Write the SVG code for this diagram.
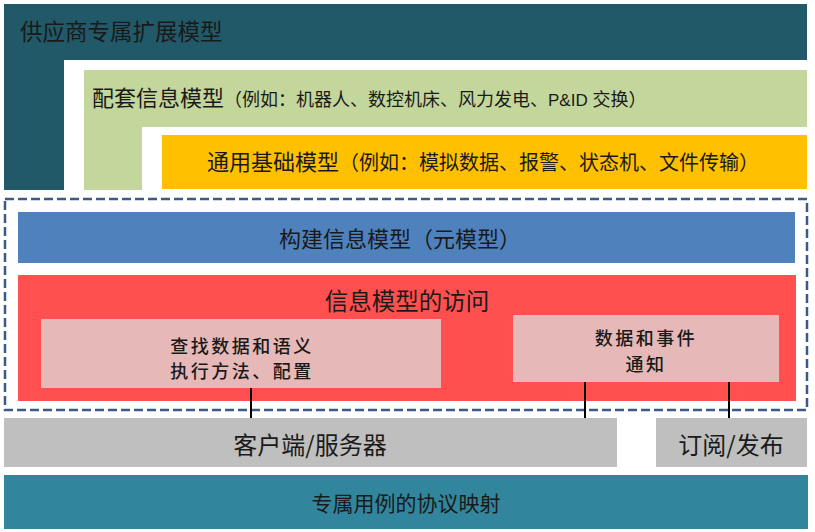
<svg xmlns="http://www.w3.org/2000/svg" width="815" height="532" viewBox="0 0 815 532">
<style>
text{font-family:"Noto Sans CJK SC","Noto Sans",sans-serif;fill:#1a1a1a;}
.lat{font-family:"Liberation Sans","Noto Sans",sans-serif;}
.c{text-anchor:middle;dominant-baseline:central;}
.pk{font-size:18px;font-weight:500;letter-spacing:2.5px;}
.conn{stroke:#000;stroke-width:2;fill:none;}
</style>
<rect width="815" height="532" fill="#ffffff"/>
<g id="vendor">
<path d="M4 4H807V60H64V190H4Z" fill="#215968"/>
<text x="20" y="40" font-size="22.5">供应商专属扩展模型</text>
</g>
<g id="companion">
<path d="M84 70H807V127H142V190H84Z" fill="#C3D69B"/>
<text x="92" y="106" font-size="22">配套信息模型<tspan font-size="18">（例如：机器人、数控机床、风力发电、<tspan class="lat" font-size="17">P&amp;ID </tspan>交换）</tspan></text>
</g>
<g id="base">
<rect x="162" y="135" width="645" height="54" fill="#FFC000"/>
<text x="207" y="170" font-size="22">通用基础模型<tspan font-size="20">（例如：模拟数据、报警、状态机、文件传输）</tspan></text>
</g>
<g id="frame">
<rect x="5" y="199" width="802" height="211" fill="none" stroke="#3B5A85" stroke-width="2.5" stroke-dasharray="9 4"/>
</g>
<g id="build">
<rect x="18" y="212" width="777" height="51" fill="#4F81BD"/>
<text class="c" x="400" y="237" font-size="22">构建信息模型（元模型）</text>
</g>
<g id="access">
<rect x="18" y="275" width="778" height="126" fill="#FF4F4F"/>
<text class="c" x="407" y="300" font-size="23.5">信息模型的访问</text>
</g>
<g id="find">
<rect x="41" y="319" width="400" height="69" fill="#E6B9B8"/>
<text class="c pk" x="242" y="345">查找数据和语义</text>
<text class="c pk" x="242" y="370">执行方法、配置</text>
</g>
<g id="notify">
<rect x="513" y="315" width="266" height="67" fill="#E6B9B8"/>
<text class="c pk" x="646" y="337">数据和事件</text>
<text class="c pk" x="646" y="363">通知</text>
</g>
<g id="connectors">
<line class="conn" x1="251" y1="388" x2="251" y2="418"/>
<line class="conn" x1="585" y1="382" x2="585" y2="418"/>
<line class="conn" x1="729" y1="382" x2="729" y2="418"/>
</g>
<g id="clientserver">
<rect x="4" y="418" width="613" height="49" fill="#BFBFBF"/>
<text class="c" x="310" y="443" font-size="24">客户端/服务器</text>
</g>
<g id="pubsub">
<rect x="656" y="418" width="151" height="49" fill="#BFBFBF"/>
<text class="c" x="731" y="443" font-size="24">订阅/发布</text>
</g>
<g id="mapping">
<rect x="4" y="475" width="804" height="54" fill="#31859C"/>
<text class="c" x="406" y="502" font-size="21">专属用例的协议映射</text>
</g>
</svg>
